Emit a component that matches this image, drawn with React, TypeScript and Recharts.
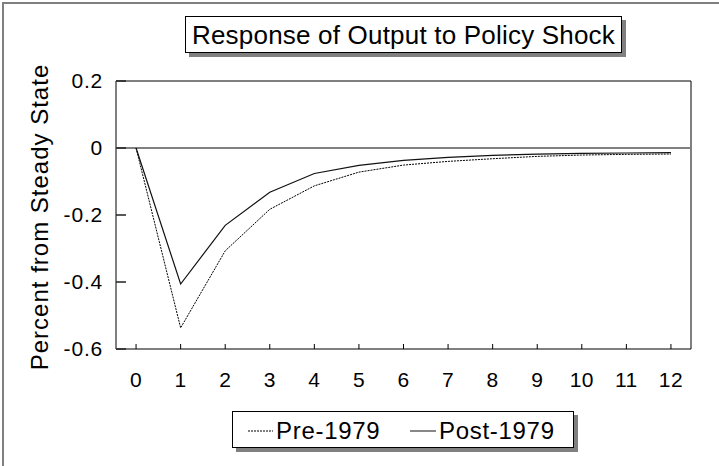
import { Line, LineChart, ReferenceLine, XAxis, YAxis } from "recharts";

// quarters after the shock
const periods = [0, 1, 2, 3, 4, 5, 6, 7, 8, 9, 10, 11, 12];
const pre1979 = [0, -0.537, -0.307, -0.183, -0.113, -0.072, -0.051, -0.04, -0.032, -0.025, -0.021, -0.019, -0.018];
const post1979 = [0, -0.406, -0.231, -0.132, -0.076, -0.052, -0.037, -0.028, -0.022, -0.018, -0.016, -0.015, -0.014];
const yTicks = [0.2, 0, -0.2, -0.4, -0.6];

const data = periods.map((t, i) => ({ t, pre: pre1979[i], post: post1979[i] }));

const W = 719;
const H = 466;
const font = "'Liberation Sans', Arial, sans-serif";
const gray = "#808080";
const X_MARGIN = 23;
const Y_MARGIN = 13;

function XTick(props: any) {
  const { x, y, payload } = props;
  const axisY = y - X_MARGIN;
  return (
    <g>
      <line x1={x} x2={x} y1={axisY} y2={axisY - 5} stroke="#000" />
      <text x={x} y={y} dy="0.71em" textAnchor="middle" fontSize={21} letterSpacing={0.4} fontFamily={font} fill="#000">
        {payload.value}
      </text>
    </g>
  );
}

function YTick(props: any) {
  const { x, y, payload } = props;
  const axisX = x + Y_MARGIN;
  return (
    <g>
      <line x1={axisX} x2={axisX + 10} y1={y} y2={y} stroke="#222" strokeWidth={1.5} />
      <text x={x} y={y} dy="0.355em" textAnchor="end" fontSize={21} letterSpacing={0.8} fontFamily={font} fill="#000">
        {payload.value}
      </text>
    </g>
  );
}

function YLabel(props: any) {
  const { viewBox } = props;
  const cx = viewBox.x + 48;
  const cy = viewBox.y + viewBox.height / 2 + 2;
  return (
    <text
      transform={`translate(${cx},${cy}) rotate(-90)`}
      textAnchor="middle"
      fontSize={24}
      letterSpacing={1}
      fontFamily={font}
      fill="#000"
    >
      Percent from Steady State
    </text>
  );
}

export default function App() {
  return (
    <div style={{ position: "absolute", left: 0, top: 0, width: W, height: H, background: "#fff", fontFamily: font }}>
      <div style={{ position: "absolute", left: 2, top: 2, width: W, height: H, borderLeft: `2px solid ${gray}`, borderTop: `2px solid ${gray}` }} />

      <LineChart width={W} height={H} data={data} margin={{ top: 81, right: 28, bottom: 0, left: 0 }}>
        <XAxis
          dataKey="t"
          type="number"
          domain={[-0.45, 12.45]}
          ticks={periods}
          interval={0}
          allowDataOverflow
          height={117}
          tickSize={0}
          tickMargin={X_MARGIN}
          tickLine={false}
          axisLine={{ stroke: "#000" }}
          tick={<XTick />}
        />
        <YAxis
          type="number"
          domain={[-0.6, 0.2]}
          ticks={yTicks}
          interval={0}
          allowDataOverflow
          width={116}
          tickSize={0}
          tickMargin={Y_MARGIN}
          tickLine={false}
          axisLine={{ stroke: gray, strokeWidth: 2 }}
          tick={<YTick />}
          label={<YLabel />}
        />
        <ReferenceLine y={0.2} stroke={gray} strokeWidth={2} />
        <ReferenceLine x={12.45} stroke="#000" />
        <ReferenceLine y={0} stroke={gray} strokeWidth={2} />
        <Line
          type="linear"
          dataKey="pre"
          stroke="#000"
          strokeWidth={1}
          strokeDasharray="2 1"
          dot={false}
          isAnimationActive={false}
        />
        <Line type="linear" dataKey="post" stroke="#111" strokeWidth={1.2} dot={false} isAnimationActive={false} />
      </LineChart>

      <div
        style={{
          position: "absolute",
          left: 185,
          top: 16,
          width: 435,
          height: 35,
          border: "1px solid #000",
          background: "#fff",
          boxShadow: `4px 4px 0 ${gray}`,
          fontSize: 26,
          letterSpacing: 0.2,
          lineHeight: "36px",
          textAlign: "center",
          whiteSpace: "nowrap",
        }}
      >
        Response of Output to Policy Shock
      </div>

      <div
        style={{
          position: "absolute",
          left: 232,
          top: 411,
          width: 340,
          height: 35,
          border: "1px solid #000",
          background: "#fff",
          boxShadow: `4px 4px 0 ${gray}`,
        }}
      >
        <svg width={340} height={35} style={{ display: "block" }}>
          <line x1={15} x2={40} y1={19} y2={19} stroke="#000" strokeDasharray="2 1" />
          <text x={43} y={27} fontSize={24} letterSpacing={0.7} fontFamily={font} fill="#000">
            Pre-1979
          </text>
          <line x1={177} x2={203} y1={19} y2={19} stroke="#111" />
          <text x={206} y={27} fontSize={24} letterSpacing={0.7} fontFamily={font} fill="#000">
            Post-1979
          </text>
        </svg>
      </div>
    </div>
  );
}
